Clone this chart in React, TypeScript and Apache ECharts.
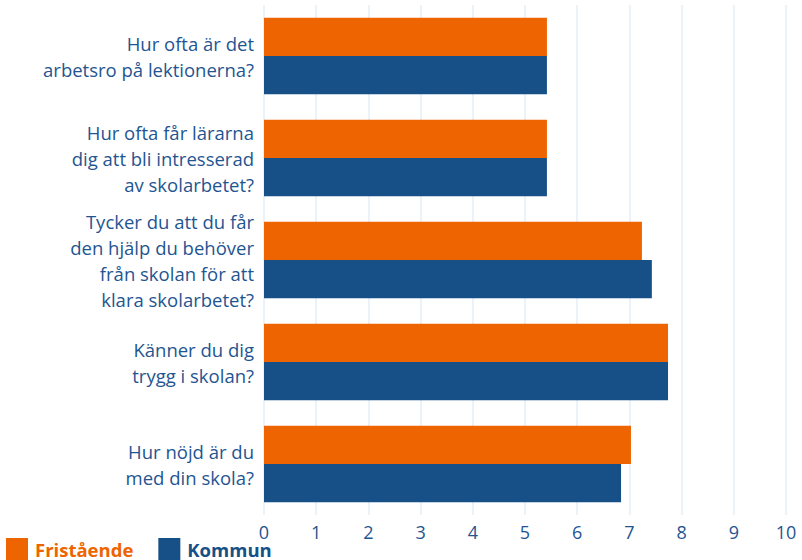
import React, { useEffect, useRef } from "react";
import * as echarts from "echarts";

const categories = [
  "Hur ofta är det\narbetsro på lektionerna?",
  "Hur ofta får lärarna\ndig att bli intresserad\nav skolarbetet?",
  "Tycker du att du får\nden hjälp du behöver\nfrån skolan för att\nklara skolarbetet?",
  "Känner du dig\ntrygg i skolan?",
  "Hur nöjd är du\nmed din skola?",
];
const fristaende = [5.42, 5.42, 7.24, 7.74, 7.03];
const kommun = [5.42, 5.42, 7.43, 7.74, 6.84];
const seriesNames = ["Fristående", "Kommun"];

const ORANGE = "#ee6400";
const BLUE = "#174f87";
const TEXT = "#1f5591";

export default function App() {
  const ref = useRef<HTMLDivElement>(null);
  useEffect(() => {
    if (!ref.current) return;
    const chart = echarts.init(ref.current, undefined, { renderer: "svg" });
    chart.setOption({
      animation: false,
      textStyle: { fontFamily: "Open Sans" },
      grid: { left: 264, right: 16, top: 5, bottom: 45, containLabel: false },
      legend: {
        left: 6,
        top: 538,
        padding: 0,
        itemWidth: 22,
        itemHeight: 22,
        itemGap: 25,
        icon: "rect",
        data: [
          { name: seriesNames[0], textStyle: { color: ORANGE } },
          { name: seriesNames[1], textStyle: { color: BLUE } },
        ],
        textStyle: {
          fontSize: 18.5,
          lineHeight: 18,
          fontWeight: "bold",
          fontFamily: "Open Sans",
          padding: [2, 0, 0, 2],
        },
      },
      xAxis: {
        type: "value",
        min: 0,
        max: 10,
        interval: 1,
        axisLine: { show: false },
        axisTick: { show: false },
        axisLabel: { color: TEXT, fontSize: 18, lineHeight: 16, margin: 9, fontFamily: "Open Sans" },
        splitLine: { show: true, lineStyle: { color: "#e4eef9", width: 1.5 } },
      },
      yAxis: {
        type: "category",
        data: categories,
        inverse: true,
        axisLine: { show: false },
        axisTick: { show: false },
        axisLabel: {
          color: TEXT,
          fontSize: 18.5,
          lineHeight: 26,
          margin: 10,
          align: "right",
          fontFamily: "Open Sans",
        },
      },
      series: [
        {
          name: seriesNames[0],
          type: "bar",
          data: fristaende,
          itemStyle: { color: ORANGE },
          barGap: "0%",
          barCategoryGap: "25%",
        },
        {
          name: seriesNames[1],
          type: "bar",
          data: kommun,
          itemStyle: { color: BLUE },
          barGap: "0%",
          barCategoryGap: "25%",
        },
      ],
    });
    return () => chart.dispose();
  }, []);
  return <div ref={ref} style={{ width: 802, height: 560, position: "absolute", left: 0, top: 0 }} />;
}
